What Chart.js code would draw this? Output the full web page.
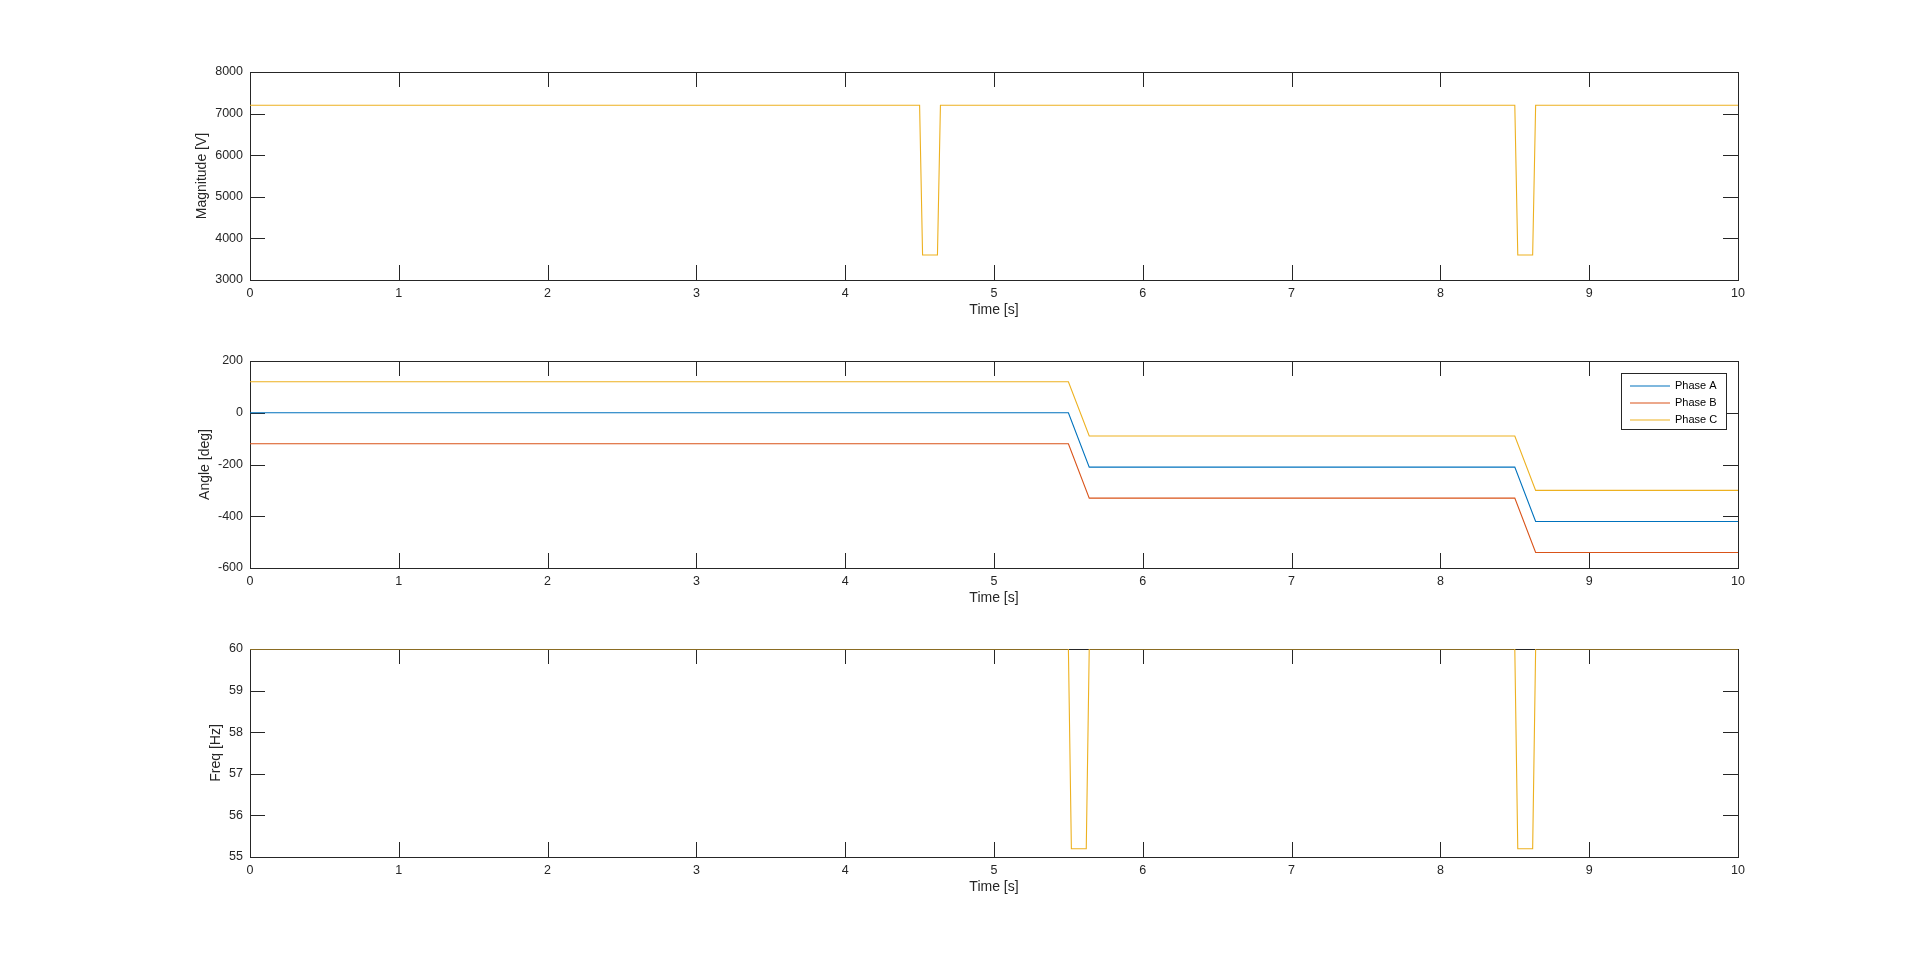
<!DOCTYPE html>
<html>
<head>
<meta charset="utf-8">
<script src="https://cdn.jsdelivr.net/npm/chart.js@4/dist/chart.umd.min.js"></script>
<style>
  html, body { margin: 0; padding: 0; background: #ffffff; }
  body { width: 1920px; height: 963px; position: relative; overflow: hidden; }
  .plot { position: absolute; left: 0; width: 1920px; }
</style>
</head>
<body>
<div class="plot" id="w1" style="top:57px;height:263px;"><canvas id="c1"></canvas></div>
<div class="plot" id="w2" style="top:346px;height:262px;"><canvas id="c2"></canvas></div>
<div class="plot" id="w3" style="top:634px;height:263px;"><canvas id="c3"></canvas></div>
<script>
// ---------- data ----------
const phaseLabels = ['Phase A', 'Phase B', 'Phase C'];
const phaseColors = ['#0072BD', '#D95319', '#EDB120'];

const timeTicks = [0, 1, 2, 3, 4, 5, 6, 7, 8, 9, 10];

const magTime = [0, 4.5, 4.52, 4.62, 4.64, 8.5, 8.52, 8.62, 8.64, 10];
const magA    = [7200, 7200, 3600, 3600, 7200, 7200, 3600, 3600, 7200, 7200];
const magB    = [7200, 7200, 3600, 3600, 7200, 7200, 3600, 3600, 7200, 7200];
const magC    = [7200, 7200, 3600, 3600, 7200, 7200, 3600, 3600, 7200, 7200];
const magTicks = [3000, 4000, 5000, 6000, 7000, 8000];

const angTime = [0, 5.5, 5.64, 8.5, 8.64, 10];
const angA    = [0, 0, -210, -210, -420, -420];
const angB    = [-120, -120, -330, -330, -540, -540];
const angC    = [120, 120, -90, -90, -300, -300];
const angTicks = [-600, -400, -200, 0, 200];

const freqTime = [0, 5.5, 5.52, 5.62, 5.64, 8.5, 8.52, 8.62, 8.64, 10];
const freqA    = [60, 60, 55.2, 55.2, 60, 60, 55.2, 55.2, 60, 60];
const freqB    = [60, 60, 55.2, 55.2, 60, 60, 55.2, 55.2, 60, 60];
const freqC    = [60, 60, 55.2, 55.2, 60, 60, 55.2, 55.2, 60, 60];
const freqTicks = [55, 56, 57, 58, 59, 60];

// ---------- helpers ----------
const AX = '#262626';
const FONT = 'Arial, "Liberation Sans", Helvetica, sans-serif';

function pts(t, v) { return t.map((x, i) => ({ x: x, y: v[i] })); }

// overlapping: the three phases coincide, only the last (Phase C) is visible on top
function makeDatasets(t, series, overlapping) {
  return series.map((s, i) => ({
    label: phaseLabels[i],
    data: pts(t, s),
    borderColor: phaseColors[i],
    backgroundColor: phaseColors[i],
    borderWidth: 1.1,
    pointRadius: 0,
    tension: 0,
    hidden: overlapping && i < series.length - 1,
    order: 2 - i
  }));
}

const boxTicks = {
  id: 'boxTicks',
  beforeDatasetsDraw(chart) {
    const { ctx, chartArea: a } = chart;
    const xs = chart.scales.x, ys = chart.scales.y;
    const len = 15;
    ctx.save();
    ctx.strokeStyle = AX;
    ctx.lineWidth = 1;
    ctx.beginPath();
    xs.ticks.forEach(t => {
      const px = Math.round(xs.getPixelForValue(t.value)) + 0.5;
      ctx.moveTo(px, a.bottom); ctx.lineTo(px, a.bottom - len);
      ctx.moveTo(px, a.top); ctx.lineTo(px, a.top + len);
    });
    ys.ticks.forEach(t => {
      const py = Math.round(ys.getPixelForValue(t.value)) + 0.5;
      ctx.moveTo(a.left, py); ctx.lineTo(a.left + len, py);
      ctx.moveTo(a.right, py); ctx.lineTo(a.right - len, py);
    });
    ctx.stroke();
    ctx.strokeRect(Math.round(a.left) + 0.5, Math.round(a.top) + 0.5,
                   Math.round(a.right - a.left), Math.round(a.bottom - a.top));
    ctx.restore();
  }
};

const boxLegend = {
  id: 'boxLegend',
  afterDraw(chart, args, opts) {
    if (!opts || !opts.show) return;
    const { ctx } = chart;
    const top = opts.canvasTop;
    const x0 = 1621.5, y0 = 373.5 - top, w = 105, h = 56;
    ctx.save();
    ctx.fillStyle = '#ffffff';
    ctx.fillRect(x0, y0, w, h);
    ctx.strokeStyle = AX;
    ctx.lineWidth = 1;
    ctx.strokeRect(x0, y0, w, h);
    ctx.font = '11px ' + FONT;
    ctx.textBaseline = 'middle';
    ctx.textAlign = 'left';
    chart.data.datasets.forEach((ds, i) => {
      const yy = y0 + 12.5 + i * 17;
      ctx.strokeStyle = ds.borderColor;
      ctx.lineWidth = 1.1;
      ctx.beginPath();
      ctx.moveTo(1630, yy); ctx.lineTo(1670, yy);
      ctx.stroke();
      ctx.fillStyle = '#000000';
      ctx.fillText(ds.label, 1675, yy);
    });
    ctx.restore();
  }
};

function makeChart(id, datasets, yMin, yMax, yTicks, yTitle, padLeft, legend, canvasTop) {
  const yWidth = 250 - padLeft;
  return new Chart(document.getElementById(id), {
    type: 'line',
    data: { datasets: datasets },
    options: {
      responsive: true,
      maintainAspectRatio: false,
      animation: false,
      events: [],
      layout: { padding: { left: padLeft, right: 182, top: 15, bottom: 0 } },
      plugins: {
        legend: { display: false },
        tooltip: { enabled: false },
        boxLegend: { show: legend, canvasTop: canvasTop }
      },
      scales: {
        x: {
          type: 'linear',
          min: 0, max: 10,
          afterBuildTicks(s) { s.ticks = timeTicks.map(v => ({ value: v })); },
          afterFit(s) { s.height = 40; },
          grid: { display: false, drawTicks: false },
          border: { display: false },
          ticks: { color: AX, font: { size: 12.5, family: FONT }, padding: 6, maxRotation: 0,
                   callback: v => String(v) },
          title: { display: true, text: 'Time [s]', color: AX,
                   font: { size: 14, family: FONT }, padding: { top: 0, bottom: 1.6 } }
        },
        y: {
          type: 'linear',
          min: yMin, max: yMax,
          afterBuildTicks(s) { s.ticks = yTicks.map(v => ({ value: v })); },
          afterFit(s) { s.width = yWidth; },
          grid: { display: false, drawTicks: false },
          border: { display: false },
          ticks: { color: AX, font: { size: 12.5, family: FONT }, padding: 7,
                   callback: v => String(v) },
          title: { display: true, text: yTitle, color: AX,
                   font: { size: 14, family: FONT }, padding: { top: 0, bottom: 0 } }
        }
      }
    },
    plugins: [boxTicks, boxLegend]
  });
}

makeChart('c1', makeDatasets(magTime, [magA, magB, magC], true), 3000, 8000, magTicks, 'Magnitude [V]', 194, false, 57);
makeChart('c2', makeDatasets(angTime, [angA, angB, angC], false), -600, 200, angTicks, 'Angle [deg]', 197, true, 346);
makeChart('c3', makeDatasets(freqTime, [freqA, freqB, freqC], true), 55, 60, freqTicks, 'Freq [Hz]', 208, false, 634);
</script>
</body>
</html>
